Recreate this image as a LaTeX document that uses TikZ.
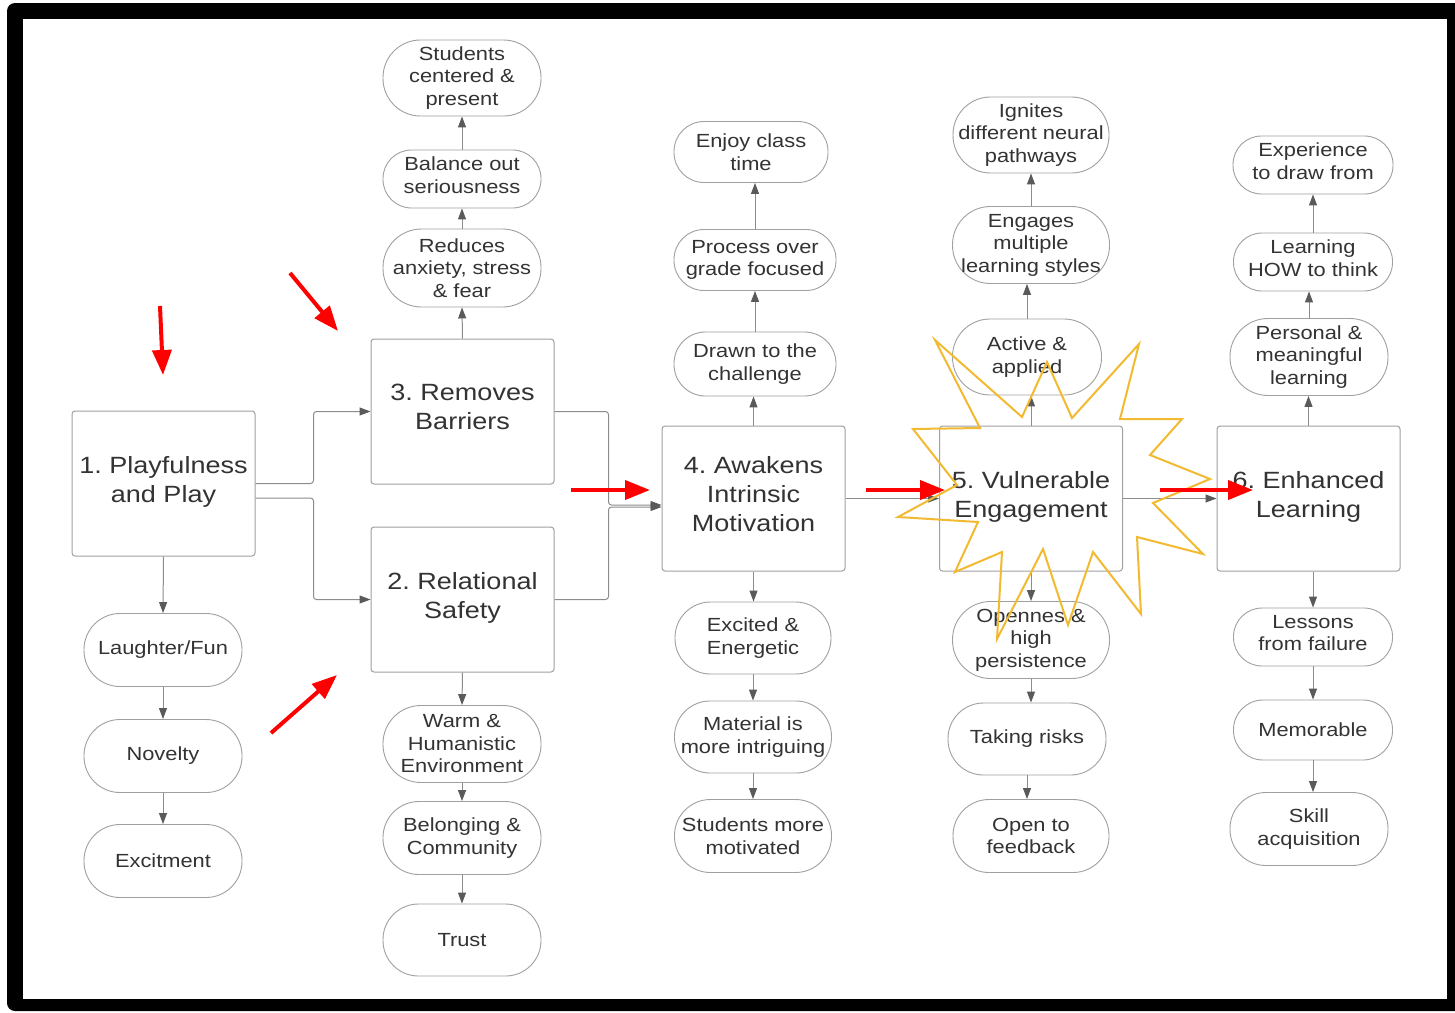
\documentclass[tikz,border=0pt]{standalone}
\usepackage{fontspec}
\setmainfont[FakeStretch=1.15]{Liberation Sans}
\usetikzlibrary{arrows.meta}
\definecolor{txt}{RGB}{51,51,51}
\definecolor{boxgray}{RGB}{160,160,160}
\definecolor{linegray}{RGB}{140,140,140}
\definecolor{headgray}{RGB}{90,90,90}
\definecolor{burstyellow}{RGB}{242,186,48}
\newcommand\fbig{\fontsize{23.5}{29}\selectfont\frenchspacing}
\newcommand\fsmall{\fontsize{19}{22.5}\selectfont\frenchspacing}
\begin{document}
\begin{tikzpicture}[x=1pt,y=-1pt,
  box/.style={draw=boxgray, line width=1pt, rounded corners=3pt, minimum width=183pt, minimum height=145pt, inner sep=0pt, align=center, font=\fbig, text=txt, fill=white, text depth=9pt},
  pill/.style 2 args={draw=boxgray, line width=0.9pt, inner sep=0pt, align=center, font=\fsmall, text=txt, fill=white, minimum width=#1pt, minimum height=#2pt, rounded corners={(#2pt-1pt)/2}},
  raise/.style={text depth=8pt},
  conn/.style={draw=linegray, line width=1pt, rounded corners=3pt, -{Triangle[length=11pt,width=8pt,color=headgray]}},
  redarr/.style={draw=red, line width=4pt, -{Triangle[length=25pt,width=19pt]}},
  burst/.style={draw=burstyellow, line width=2pt, line join=miter}
]
\useasboundingbox (0,0) rectangle (1455,1012);
\fill[white] (0,0) rectangle (1455,1012);
\fill[black, rounded corners=8pt] (7,3) rectangle (1475,1011);
\fill[white] (23,19) rectangle (1447,999);

% main boxes
\node[box] (box1) at (163.5,483.5) {1. Playfulness\\and Play};
\node[box] (box3) at (462.5,411.5) {3. Removes\\Barriers};
\node[box] (box2) at (462.5,599.5) {2. Relational\\Safety};
\node[box] (box4) at (753.5,498.5) {4. Awakens\\Intrinsic\\Motivation};
\node[box] (box5) at (1031,498.5) {5. Vulnerable\\Engagement};
\node[box] (box6) at (1308.5,498.5) {6. Enhanced\\Learning};

% column 1
\node[pill={158}{73}] (laugh) at (163,650) {Laughter/Fun};
\node[pill={158}{73}] (novelty) at (163,756) {Novelty};
\node[pill={158}{73}] (excit) at (163,861) {Excitment};

% column 2/3
\node[pill={158}{76}] (students) at (462,78) {Students\\centered \&\\present};
\node[pill={158}{58}, raise] (balance) at (462,179) {Balance out\\seriousness};
\node[pill={158}{78}] (reduces) at (462,268) {Reduces\\anxiety, stress\\\& fear};
\node[pill={158}{77}] (warm) at (462,744) {Warm \&\\Humanistic\\Environment};
\node[pill={158}{73}] (belong) at (462,838) {Belonging \&\\Community};
\node[pill={158}{72}] (trust) at (462,940) {Trust};

% column 4
\node[pill={154}{61}] (enjoy) at (751,152) {Enjoy class\\time};
\node[pill={162}{61}] (process) at (755,260) {Process over\\grade focused};
\node[pill={162}{64}] (drawn) at (755,364) {Drawn to the\\challenge};
\node[pill={156}{72}] (excited) at (753,638) {Excited \&\\Energetic};
\node[pill={157}{72}] (material) at (753,737) {Material is\\more intriguing};
\node[pill={157}{73}] (studmot) at (753,836) {Students more\\motivated};

% column 5
\node[pill={156}{76}] (ignites) at (1031,135) {Ignites\\different neural\\pathways};
\node[pill={157}{77}] (engages) at (1031,245) {Engages\\multiple\\learning styles};
\node[pill={149}{76}] (active) at (1027,357) {Active \&\\applied};
\node[pill={157}{77}] (openness) at (1031,640) {Opennes \&\\high\\persistence};
\node[pill={158}{72}] (risks) at (1027,739) {Taking risks};
\node[pill={156}{73}] (feedback) at (1031,836) {Open to\\feedback};

% column 6
\node[pill={160}{58}, raise] (exper) at (1313,165) {Experience\\to draw from};
\node[pill={159}{58}, raise] (howthink) at (1313,262) {Learning\\HOW to think};
\node[pill={158}{77}] (personal) at (1309,357) {Personal \&\\meaningful\\learning};
\node[pill={159}{58}, raise] (lessons) at (1313,637) {Lessons\\from failure};
\node[pill={159}{60}] (memorable) at (1313,730) {Memorable};
\node[pill={158}{73}] (skill) at (1309,829) {Skill\\acquisition};

% horizontal connectors
\draw[conn] (box1.east) -- ++(58,0) |- (box3.west);
\draw[conn] ([yshift=-14.5pt]box1.east) -- ++(58,0) |- (box2.west);
\draw[conn] (box3.east) -- ++(54,0) |- ([yshift=-6.5pt]box4.west);
\draw[conn] (box2.east) -- ++(54,0) |- ([yshift=-8.5pt]box4.west);
\draw[conn] (box4.east) -- (box5.west);
\draw[conn] (box5.east) -- (box6.west);

% vertical connectors
\draw[conn] (box1.south) -- (laugh.north);
\draw[conn] (laugh.south) -- (novelty.north);
\draw[conn] (novelty.south) -- (excit.north);

\draw[conn] (box3.north) -- (reduces.south);
\draw[conn] (reduces.north) -- (balance.south);
\draw[conn] (balance.north) -- (students.south);
\draw[conn] (box2.south) -- (warm.north);
\draw[conn] (warm.south) -- (belong.north);
\draw[conn] (belong.south) -- (trust.north);

\draw[conn] (box4.north) -- (box4.north |- drawn.south);
\draw[conn] (drawn.north) -- (drawn.north |- process.south);
\draw[conn] (process.north) -- (process.north |- enjoy.south);
\draw[conn] (box4.south) -- (box4.south |- excited.north);
\draw[conn] (excited.south) -- (excited.south |- material.north);
\draw[conn] (material.south) -- (material.south |- studmot.north);

\draw[conn] (box5.north) -- (box5.north |- active.south);
\draw[conn] (active.north) -- (active.north |- engages.south);
\draw[conn] (engages.north) -- (engages.north |- ignites.south);
\draw[conn] (box5.south) -- (box5.south |- openness.north);
\draw[conn] (openness.south) -- (openness.south |- risks.north);
\draw[conn] (risks.south) -- (risks.south |- feedback.north);

\draw[conn] (box6.north) -- (box6.north |- personal.south);
\draw[conn] (personal.north) -- (personal.north |- howthink.south);
\draw[conn] (howthink.north) -- (howthink.north |- exper.south);
\draw[conn] (lessons.north |- box6.south) -- (lessons.north);
\draw[conn] (lessons.south) -- (memorable.north);
\draw[conn] (memorable.south) -- (memorable.south |- skill.north);

% starburst
\draw[burst] (935,340) -- (1022,417) -- (1047,362) -- (1072,418) -- (1139,344)
  -- (1120,419) -- (1182,419) -- (1150,455) -- (1210,479) -- (1153,503)
  -- (1203,554) -- (1137,537) -- (1141,614) -- (1093,552) -- (1068,625)
  -- (1043,549) -- (997,639) -- (1002,552) -- (955,572) -- (978,522)
  -- (898,517) -- (957,485) -- (913,429) -- (980,428) -- cycle;

% red arrows
\draw[redarr] (160,306) -- (163,375);
\draw[redarr] (290,273) -- (338,331);
\draw[redarr] (271,733) -- (337,675);
\draw[redarr] (571,490) -- (650,490);
\draw[redarr] (866,490) -- (945,490);
\draw[redarr] (1160,490) -- (1253,490);
\end{tikzpicture}
\end{document}
